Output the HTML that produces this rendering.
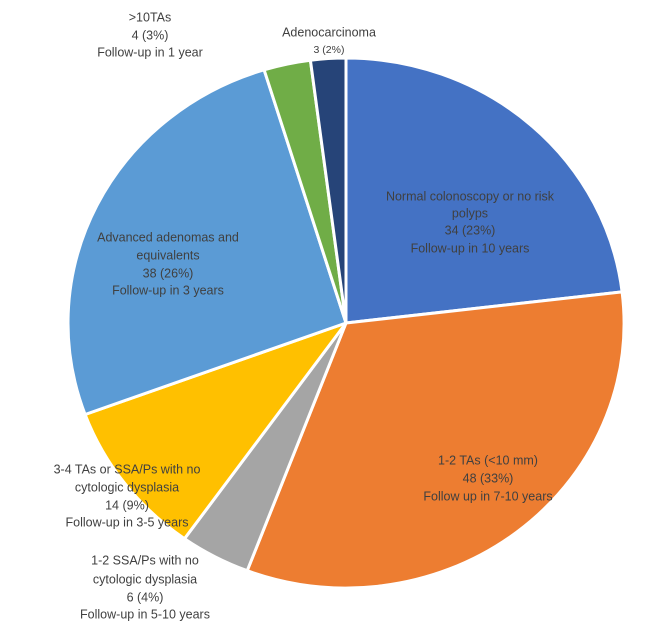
<!DOCTYPE html>
<html><head><meta charset="utf-8"><style>
html,body{margin:0;padding:0;background:#fff;}
svg{display:block;}
text{font-family:"Liberation Sans",sans-serif;font-size:12.5px;fill:#404040;text-anchor:middle;dominant-baseline:middle;}
</style></head><body>
<svg width="668" height="638" viewBox="0 0 668 638">
<g stroke="#fff" stroke-width="3" stroke-linejoin="round">
<path d="M346,323 L346,58 A278,265 0 0,1 622.1,291.9 Z" fill="#4472C4"/>
<path d="M346,323 L622.1,291.9 A278,265 0 0,1 247.2,570.7 Z" fill="#ED7D31"/>
<path d="M346,323 L247.2,570.7 A278,265 0 0,1 184.5,538.7 Z" fill="#A5A5A5"/>
<path d="M346,323 L184.5,538.7 A278,265 0 0,1 85.1,414.5 Z" fill="#FFC000"/>
<path d="M346,323 L85.1,414.5 A278,265 0 0,1 264.1,69.8 Z" fill="#5B9BD5"/>
<path d="M346,323 L264.1,69.8 A278,265 0 0,1 310.4,60.2 Z" fill="#70AD47"/>
<path d="M346,323 L310.4,60.2 A278,265 0 0,1 346,58 Z" fill="#264478"/>
</g>
<text x="470" y="197">Normal colonoscopy or no risk</text>
<text x="470" y="214">polyps</text>
<text x="470" y="231">34 (23%)</text>
<text x="470" y="249">Follow-up in 10 years</text>
<text x="168" y="238">Advanced adenomas and</text>
<text x="168" y="256">equivalents</text>
<text x="168" y="274">38 (26%)</text>
<text x="168" y="291">Follow-up in 3 years</text>
<text x="488" y="461">1-2 TAs (&lt;10 mm)</text>
<text x="488" y="479">48 (33%)</text>
<text x="488" y="497">Follow up in  7-10 years</text>
<text x="127" y="470">3-4 TAs or SSA/Ps with no</text>
<text x="127" y="488">cytologic dysplasia</text>
<text x="127" y="506">14 (9%)</text>
<text x="127" y="523">Follow-up in 3-5 years</text>
<text x="145" y="561">1-2 SSA/Ps with no</text>
<text x="145" y="580">cytologic dysplasia</text>
<text x="145" y="598">6 (4%)</text>
<text x="145" y="615">Follow-up in 5-10 years</text>
<text x="150" y="18">&gt;10TAs</text>
<text x="150" y="36">4 (3%)</text>
<text x="150" y="53">Follow-up in 1 year</text>
<text x="329" y="33">Adenocarcinoma</text>
<text x="329" y="50" style="font-size:10.5px">3 (2%)</text>
</svg>
</body></html>
